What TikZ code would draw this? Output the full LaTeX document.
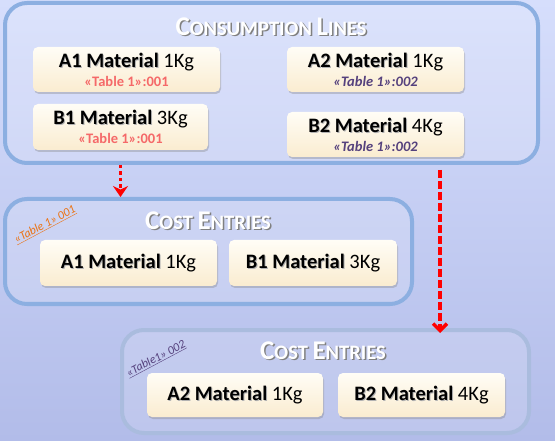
\documentclass[tikz,border=0pt]{standalone}
\usepackage{fontspec}
\setmainfont{Carlito}
\usetikzlibrary{arrows.meta}
\usetikzlibrary{shadows}
\definecolor{bgtop}{RGB}{214,222,252}
\definecolor{bgbot}{RGB}{178,188,233}
\definecolor{frameblue}{RGB}{140,175,225}
\definecolor{framegrey}{RGB}{170,188,222}
\definecolor{creamtop}{RGB}{255,253,246}
\definecolor{creambot}{RGB}{250,236,208}
\definecolor{tabred}{RGB}{245,105,105}
\definecolor{tabpurple}{RGB}{85,65,125}
\definecolor{tagorange}{RGB}{235,115,20}
\newcommand{\bigsc}[2]{{\fontsize{27}{27}\selectfont #1}{\fontsize{20.5}{20.5}\selectfont #2}}
\newcommand{\scspace}{{\fontsize{20.5}{20.5}\selectfont\ }}
\newcommand{\shadowed}[1]{\makebox[0pt][l]{\hspace{1.5pt}\raisebox{-1.5pt}{\color{black!50}#1}}{\color{white}#1}}
\newcommand{\mat}[1]{\makebox[0pt][l]{\hspace{1pt}\raisebox{-1pt}{\color{black!30}\textbf{#1 Material}}}\textbf{#1 Material}}
\tikzset{x=1pt,y=-1pt,
 panel/.style={draw=frameblue,line width=4pt,rounded corners=22pt,
   fill=white,fill opacity=0.15,inner sep=0pt},
 item/.style={rounded corners=5pt,top color=creamtop,bottom color=creambot,
   drop shadow={opacity=0.35,shadow xshift=1pt,shadow yshift=-2pt},
   inner sep=0pt,align=center,font=\fontsize{20.5}{19}\selectfont},
 heading/.style={font=\bfseries,inner sep=0pt},
 tag/.style={font=\fontsize{12}{12}\selectfont\itshape,inner sep=0pt},
 dotarrow/.style={draw=red,line width=3.5pt,dash pattern=on 3.5pt off 3pt,
   -{Stealth[length=11pt,width=15pt]}},
 dasharrow/.style={draw=red,line width=3.5pt,dash pattern=on 8pt off 3pt,
   -{Straight Barb[length=7pt,width=14pt,line width=3.5pt]}},
}
\newcommand{\tabA}{{\fontsize{14.5}{14.5}\selectfont\bfseries\color{tabred}«Table 1»:001}}
\newcommand{\tabB}{{\fontsize{14.5}{14.5}\selectfont\bfseries\itshape\color{tabpurple}«Table 1»:002}}
\begin{document}
\begin{tikzpicture}
    \useasboundingbox (0,0) rectangle (555,441);
    \fill[top color=bgtop,bottom color=bgbot] (0,0) rectangle (555,441);
    % consumption lines
    \node[panel,minimum width=533pt,minimum height=160pt] (cons) at (271.5,83) {};
    \node[heading] (consT) at (271,27) {\shadowed{\bigsc{C}{ONSUMPTION}\scspace\bigsc{L}{INES}}};
    \node[item,minimum width=187pt,minimum height=45pt] (a1) at (126.5,69.5) {\mat{A1} 1Kg\\\tabA};
    \node[item,minimum width=175pt,minimum height=46pt] (b1) at (120.5,127) {\mat{B1} 3Kg\\\tabA};
    \node[item,minimum width=177pt,minimum height=45pt] (a2) at (375.5,69.5) {\mat{A2} 1Kg\\\tabB};
    \node[item,minimum width=177pt,minimum height=45pt] (b2) at (375.5,134.5) {\mat{B2} 4Kg\\\tabB};
    % cost entries 001
    \node[panel,minimum width=407pt,minimum height=105pt] (costA) at (208.5,251.5) {};
    \node[heading] (costAT) at (208,221) {\shadowed{\bigsc{C}{OST}\scspace\bigsc{E}{NTRIES}}};
    \node[item,minimum width=177pt,minimum height=46pt] (ca1) at (128.5,263) {\mat{A1} 1Kg};
    \node[item,minimum width=168pt,minimum height=46pt] (cb1) at (313,263) {\mat{B1} 3Kg};
    \node[tag,rotate=28,text=tagorange] (tagA) at (45,225) {\underline{«Table 1» 001}};
    % cost entries 002
    \node[panel,draw=framegrey,minimum width=407pt,minimum height=103pt] (costB) at (325.5,381.5) {};
    \node[heading] (costBT) at (323,351) {\shadowed{\bigsc{C}{OST}\scspace\bigsc{E}{NTRIES}}};
    \node[item,minimum width=176pt,minimum height=44pt] (ca2) at (235,395) {\mat{A2} 1Kg};
    \node[item,minimum width=167pt,minimum height=44pt] (cb2) at (421.5,395) {\mat{B2} 4Kg};
    \node[tag,rotate=28,text=tabpurple] (tagB) at (156,359) {\underline{«Table1» 002}};
    % arrows
    \coordinate (drop) at (440,170);
    \draw[dotarrow] (cons.south -| b1) -- (costA.north -| b1);
    \draw[dasharrow] (drop) -- ([yshift=-5pt]drop |- costB.north);
\end{tikzpicture}
\end{document}
